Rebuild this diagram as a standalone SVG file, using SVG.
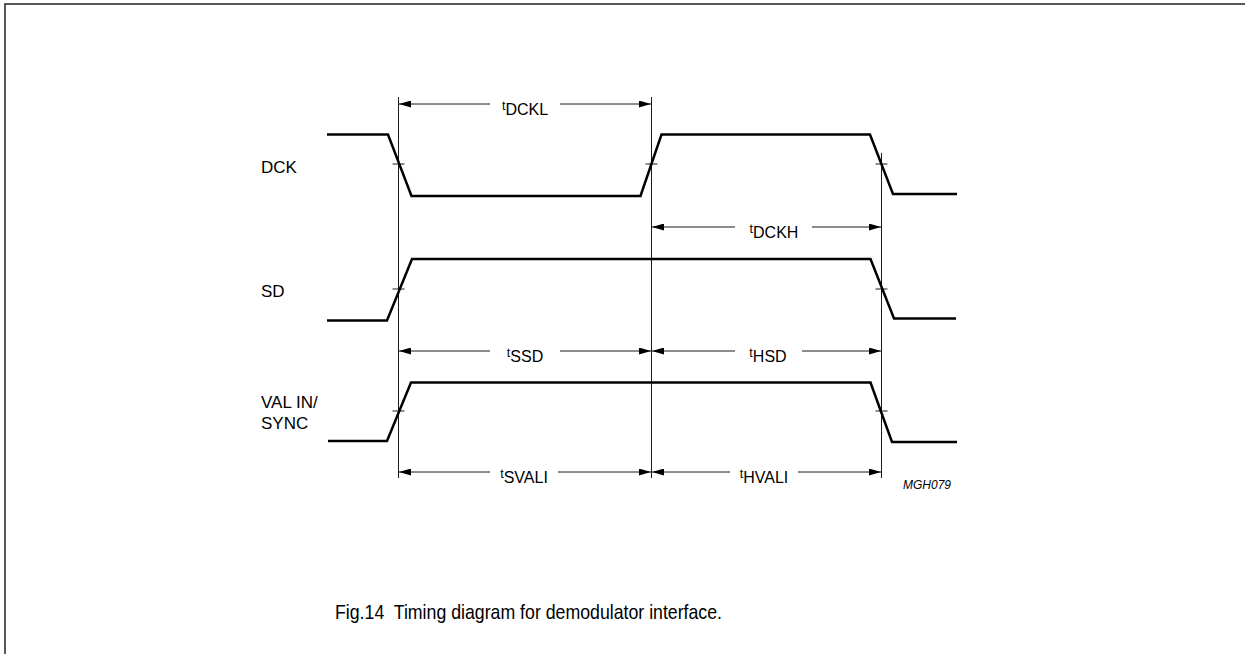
<svg xmlns="http://www.w3.org/2000/svg" width="1245" height="654" viewBox="0 0 1245 654">
<style>
.sig{fill:none;stroke:#000;stroke-width:2.5;stroke-linejoin:miter}
.ref{fill:none;stroke:#000;stroke-width:0.9}
.dim{fill:none;stroke:#000;stroke-width:0.9}
.tick{stroke:#000;stroke-width:0.9}
.lbl{font-family:"Liberation Sans",Arial,sans-serif;font-size:17px;fill:#000}
.sub{font-family:"Liberation Sans",Arial,sans-serif;font-size:16px;fill:#000}
.cap{font-family:"Liberation Sans",Arial,sans-serif;font-size:21px;fill:#000;white-space:pre}
.code{font-family:"Liberation Sans",Arial,sans-serif;font-size:12px;font-style:italic;fill:#000}
</style>
<defs>
<marker id="ah" viewBox="0 0 12 7" refX="12" refY="3.5" markerWidth="12" markerHeight="7" markerUnits="userSpaceOnUse" orient="auto-start-reverse">
<path d="M0,0 L12,3.5 L0,7 Z" fill="#000"/>
</marker>
</defs>
<rect x="0" y="0" width="1245" height="654" fill="#fff"/>
<path d="M5,660 L5,4 L1250,4" fill="none" stroke="#222" stroke-width="1.5"/>

<g id="signal-labels">
<text class="lbl" x="261" y="173">DCK</text>
<text class="lbl" x="261" y="297">SD</text>
<text class="lbl" x="261" y="408">VAL IN/</text>
<text class="lbl" x="261" y="429">SYNC</text>
</g>

<g id="reference-lines">
<line class="ref" x1="398.5" y1="97" x2="398.5" y2="478"/>
<line class="ref" x1="651.5" y1="97" x2="651.5" y2="478"/>
<line class="ref" x1="881.5" y1="153" x2="881.5" y2="478"/>
</g>

<g id="DCK">
<polyline class="sig" points="327,134.5 388,134.5 411.5,196 640.5,196 661.5,134.5 870,134.5 893,194 957,194"/>
<line class="tick" x1="392.5" y1="164" x2="404.5" y2="164"/>
<line class="tick" x1="645.5" y1="164" x2="657.5" y2="164"/>
<line class="tick" x1="875.5" y1="164" x2="887.5" y2="164"/>
</g>

<g id="SD">
<polyline class="sig" points="327,320.5 387,320.5 412,259 870.5,259 894,318.5 956,318.5"/>
<line class="tick" x1="392.5" y1="289" x2="404.5" y2="289"/>
<line class="tick" x1="875.5" y1="289" x2="887.5" y2="289"/>
</g>

<g id="VALIN-SYNC">
<polyline class="sig" points="328,441 387,441 411,382.5 870.5,382.5 892,442 957,442"/>
<line class="tick" x1="392.5" y1="411" x2="404.5" y2="411"/>
<line class="tick" x1="875.5" y1="411" x2="887.5" y2="411"/>
</g>

<g id="connectors">
<line class="dim" x1="490" y1="104" x2="399" y2="104" marker-end="url(#ah)"/>
<line class="dim" x1="560" y1="104" x2="651" y2="104" marker-end="url(#ah)"/>
<line class="dim" x1="735" y1="227" x2="652" y2="227" marker-end="url(#ah)"/>
<line class="dim" x1="812" y1="227" x2="881" y2="227" marker-end="url(#ah)"/>
<line class="dim" x1="490" y1="351" x2="399" y2="351" marker-end="url(#ah)"/>
<line class="dim" x1="560" y1="351" x2="651" y2="351" marker-end="url(#ah)"/>
<line class="dim" x1="735" y1="351" x2="652" y2="351" marker-end="url(#ah)"/>
<line class="dim" x1="802" y1="351" x2="881" y2="351" marker-end="url(#ah)"/>
<line class="dim" x1="490" y1="472" x2="399" y2="472" marker-end="url(#ah)"/>
<line class="dim" x1="558" y1="472" x2="651" y2="472" marker-end="url(#ah)"/>
<line class="dim" x1="730" y1="472" x2="652" y2="472" marker-end="url(#ah)"/>
<line class="dim" x1="798" y1="472" x2="881" y2="472" marker-end="url(#ah)"/>
</g>

<g id="timing-labels">
<text class="sub" x="525" y="115" text-anchor="middle"><tspan font-size="12.5" dy="-5.5">t</tspan><tspan dy="5.5">DCKL</tspan></text>
<text class="sub" x="774" y="238" text-anchor="middle"><tspan font-size="12.5" dy="-5.5">t</tspan><tspan dy="5.5">DCKH</tspan></text>
<text class="sub" x="525" y="362" text-anchor="middle"><tspan font-size="12.5" dy="-5.5">t</tspan><tspan dy="5.5">SSD</tspan></text>
<text class="sub" x="768" y="362" text-anchor="middle"><tspan font-size="12.5" dy="-5.5">t</tspan><tspan dy="5.5">HSD</tspan></text>
<text class="sub" x="524" y="483" text-anchor="middle"><tspan font-size="12.5" dy="-5.5">t</tspan><tspan dy="5.5">SVALI</tspan></text>
<text class="sub" x="764" y="483" text-anchor="middle"><tspan font-size="12.5" dy="-5.5">t</tspan><tspan dy="5.5">HVALI</tspan></text>
</g>

<text class="code" x="903" y="489">MGH079</text>
<text class="cap" x="335" y="619" textLength="387" lengthAdjust="spacingAndGlyphs">Fig.14  Timing diagram for demodulator interface.</text>
</svg>
